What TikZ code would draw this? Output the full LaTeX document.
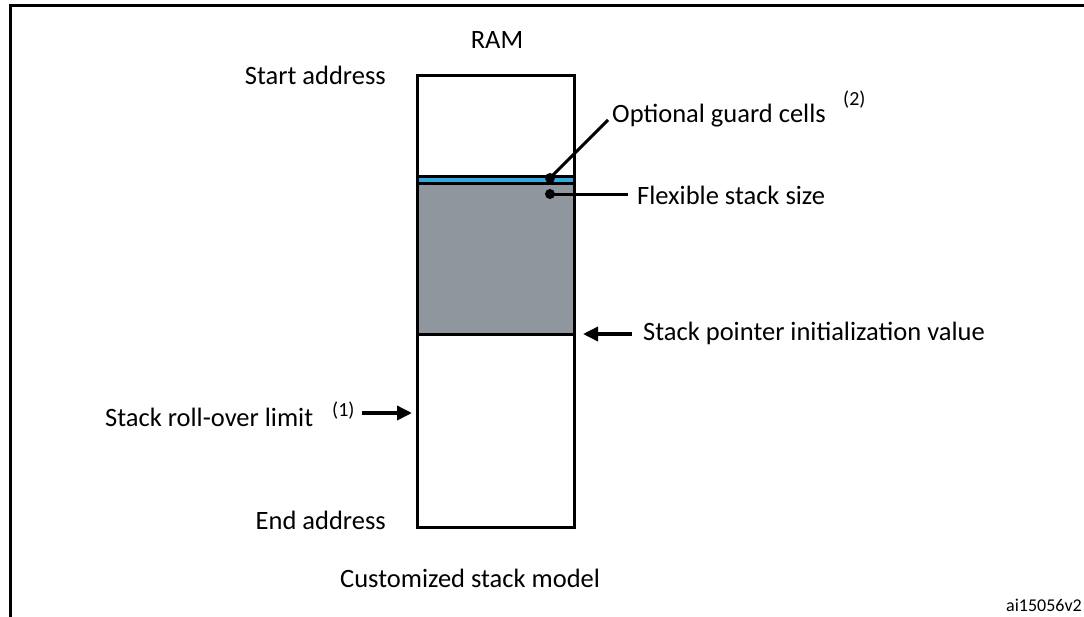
\documentclass[tikz,border=0pt]{standalone}
\usepackage{fontspec}
\setmainfont{Carlito}
\usetikzlibrary{arrows.meta}
\definecolor{stackgray}{HTML}{8F969D}
\definecolor{guardblue}{HTML}{35A9DC}
\begin{document}
\begin{tikzpicture}[x=1pt,y=-1pt,
  lbl/.style={inner sep=0pt,font=\fontsize{26.5}{30}\selectfont},
  sup/.style={inner sep=0pt,font=\fontsize{20}{22}\selectfont},
  thick line/.style={line width=3pt},
  dotline/.style={line width=3pt},
  arr/.style={line width=3.5pt,-{Triangle[length=15pt,width=14pt]}}]
\useasboundingbox (0,0) rectangle (1084,616);
% outer frame (partly visible)
\draw[line width=3pt] (10,620) -- (10,5) -- (1090,5);
% RAM regions
\fill[stackgray] (417,183) rectangle (574,334);
\fill[guardblue] (417,177) rectangle (574,182);
\draw[thick line] (417,176) -- (574,176);
\draw[thick line] (417,183) -- (574,183);
\draw[thick line] (417,334) -- (574,334);
\draw[thick line] (417,75) rectangle (574,527);
\node[lbl] (ram) at (497,40) {RAM};
\node[lbl,anchor=east] (start) at (386,75) {Start address};
\node[lbl,anchor=east] (end) at (386,520) {End address};
\node[lbl,anchor=west] (model) at (340,578) {Customized stack model};
\node[inner sep=0pt,font=\fontsize{18}{20}\selectfont,anchor=east] (ai) at (1082,605) {ai15056v2};
% guard cells
\coordinate (gdot) at (550,178);
\fill (gdot) circle (5);
\node[lbl,anchor=west] (guard) at (612,116) {Optional guard cells};
\node[sup,anchor=west] (g2) at (843,100) {(2)};
\coordinate (gend) at (608,120);
\draw[dotline] (gdot) -- (gend);
% flexible
\coordinate (fdot) at (550,194);
\fill (fdot) circle (5);
\node[lbl,anchor=west] (flex) at (637,195) {Flexible stack size};
\coordinate (fend) at (628,194);
\draw[dotline] (fdot) -- (fend);
% stack pointer
\node[lbl,anchor=west] (sp) at (643,333) {Stack pointer initialization value};
\coordinate (sptail) at (632,334);
\coordinate (sparr) at (583,334);
\draw[arr] (sptail) -- (sparr);
% roll-over
\node[lbl,anchor=west] (roll) at (105,417) {Stack roll-over limit};
\node[sup,anchor=west] (r1) at (332,411) {(1)};
\coordinate (rolltail) at (362,413);
\coordinate (rollend) at (412,413);
\draw[arr] (rolltail) -- (rollend);
\end{tikzpicture}
\end{document}
